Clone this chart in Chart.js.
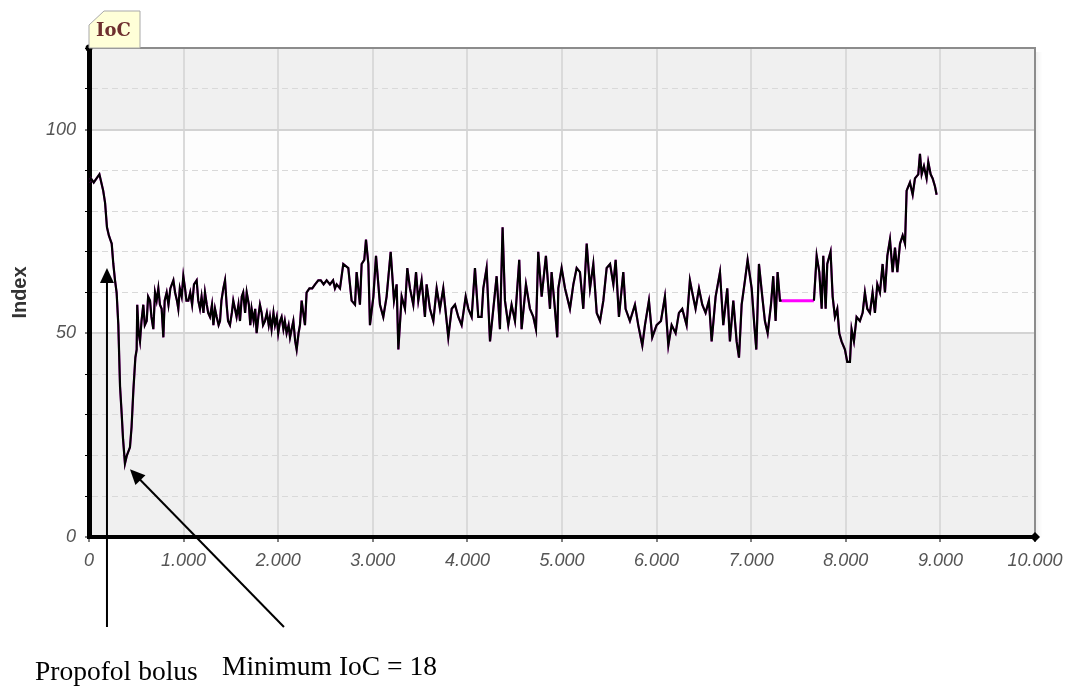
<!DOCTYPE html>
<html>
<head>
<meta charset="utf-8">
<title>IoC</title>
<script src="https://cdn.jsdelivr.net/npm/chart.js@4.4.1/dist/chart.umd.min.js"></script>
<style>
  html, body { margin: 0; padding: 0; background: #fff; }
  #wrap { position: relative; width: 1067px; height: 690px; }
</style>
</head>
<body>
<div id="wrap"><canvas id="ioc" width="1067" height="690"></canvas></div>
<script>
// seconds since start of recording
const seconds = [
  0, 20, 50, 80, 110, 130, 150, 170, 190, 210, 225, 240, 257, 275, 292, 310, 328, 346, 360, 380,
  400, 433, 450, 469, 490, 504, 510, 525, 539, 555, 574, 590, 610, 625, 645, 660, 680, 698, 715, 733,
  750, 768, 786, 800, 821, 840, 860, 892, 910, 930, 944, 960, 980, 997, 1015, 1030, 1050, 1070, 1090, 1110,
  1138, 1155, 1173, 1190, 1210, 1226, 1245, 1260, 1279, 1300, 1315, 1332, 1350, 1370, 1385, 1400, 1420, 1438, 1455, 1470,
  1490, 1510, 1525, 1543, 1560, 1580, 1596, 1615, 1630, 1650, 1667, 1690, 1705, 1719, 1740, 1757, 1772, 1790, 1807, 1825,
  1840, 1860, 1880, 1900, 1913, 1930, 1950, 1966, 1985, 2000, 2020, 2036, 2055, 2070, 2089, 2110, 2125, 2142, 2160, 2180,
  2195, 2215, 2230, 2248, 2265, 2283, 2300, 2330, 2360, 2390, 2424, 2450, 2480, 2512, 2547, 2580, 2600, 2618, 2653, 2688,
  2741, 2776, 2812, 2829, 2864, 2882, 2910, 2928, 2953, 2970, 3006, 3034, 3076, 3111, 3146, 3189, 3224, 3252, 3270, 3305,
  3340, 3365, 3393, 3428, 3457, 3481, 3516, 3551, 3569, 3604, 3640, 3675, 3710, 3745, 3798, 3834, 3869, 3904, 3939, 3982,
  4010, 4045, 4080, 4115, 4150, 4168, 4203, 4239, 4274, 4309, 4344, 4372, 4397, 4432, 4467, 4503, 4548, 4573, 4619, 4661,
  4697, 4725, 4749, 4785, 4830, 4873, 4890, 4925, 4950, 4961, 4996, 5032, 5084, 5120, 5155, 5190, 5225, 5261, 5296, 5331,
  5367, 5402, 5437, 5472, 5508, 5543, 5567, 5602, 5648, 5672, 5718, 5771, 5806, 5849, 5877, 5919, 5954, 6000, 6046, 6088,
  6124, 6159, 6201, 6236, 6271, 6317, 6352, 6377, 6412, 6448, 6483, 6518, 6553, 6582, 6624, 6670, 6705, 6747, 6775, 6811,
  6846, 6871, 6899, 6934, 6962, 7005, 7033, 7054, 7082, 7117, 7145, 7174, 7209, 7233, 7258, 7279, 7304, 7322, 7663, 7692,
  7720, 7745, 7762, 7787, 7804, 7839, 7861, 7885, 7910, 7931, 7955, 7991, 8015, 8044, 8061, 8086, 8114, 8149, 8178, 8202,
  8227, 8255, 8283, 8308, 8333, 8361, 8389, 8414, 8439, 8467, 8495, 8520, 8545, 8573, 8601, 8626, 8643, 8678, 8707, 8731,
  8766, 8784, 8802, 8826, 8854, 8872, 8897, 8918, 8943, 8960
]
const ioc = [
  87, 88, 87, 88, 89, 87, 85, 82, 76, 74, 73, 72, 67, 63, 60, 52, 37, 30, 24, 18,
  20, 22, 27, 36, 44, 46, 57, 50, 48, 53, 57, 52, 53, 59, 58, 54, 51, 60, 58, 61,
  57, 56, 49, 58, 60, 57, 61, 63, 60, 58, 56, 61, 59, 64, 61, 58, 58, 60, 57, 62,
  63, 58, 56, 59, 55, 60, 57, 55, 54, 57, 52, 56, 54, 52, 53, 58, 61, 63, 57, 53,
  52, 55, 58, 56, 54, 57, 53, 59, 60, 55, 60, 57, 52, 56, 53, 56, 50, 54, 57, 55,
  52, 53, 55, 52, 54, 51, 55, 52, 54, 50, 53, 54, 51, 53, 50, 52, 49, 51, 53, 48,
  46, 50, 52, 58, 55, 52, 60, 61, 61, 62, 63, 63, 62, 63, 62, 63, 61, 62, 61, 67,
  66, 58, 57, 65, 57, 67, 68, 73, 67, 52, 59, 69, 57, 54, 59, 70, 58, 62, 46, 59,
  56, 66, 61, 57, 65, 58, 63, 54, 62, 56, 53, 61, 56, 61, 49, 56, 57, 54, 52, 59,
  56, 54, 66, 54, 54, 61, 66, 48, 56, 64, 51, 76, 58, 52, 57, 53, 68, 51, 62, 56,
  54, 51, 70, 59, 69, 56, 65, 56, 49, 61, 66, 61, 56, 62, 66, 65, 56, 72, 61, 67,
  55, 53, 58, 66, 67, 62, 68, 54, 65, 56, 53, 57, 52, 47, 52, 58, 49, 52, 53, 59,
  47, 52, 50, 55, 56, 52, 63, 60, 56, 61, 57, 55, 58, 48, 59, 65, 52, 61, 48, 58,
  48, 44, 57, 63, 68, 61, 52, 46, 67, 59, 53, 50, 57, 64, 53, 65, 58, 58, 58, 69,
  65, 56, 69, 56, 67, 70, 59, 54, 56, 50, 48, 46, 43, 43, 51, 48, 54, 53, 55, 60,
  56, 55, 60, 55, 62, 60, 67, 60, 69, 73, 65, 71, 65, 72, 74, 72, 85, 87, 84, 88,
  89, 94, 89, 91, 88, 92, 89, 88, 86, 84
]
// the monitor held its last value here, only the trend line is drawn
const holdFrom = 7322
const holdTo = 7663

const xTickLabels = ['0', '1.000', '2.000', '3.000', '4.000', '5.000', '6.000', '7.000', '8.000', '9.000', '10.000']
const yLabelled = [0, 50, 100]

const trend = seconds.map((s, i) => ({x: s, y: ioc[i]}))
const trace = []
trend.forEach(p => {
  trace.push(p)
  if (p.x === holdFrom) trace.push({x: (holdFrom + holdTo) / 2, y: null})
})

const tickFont = {family: 'Liberation Sans', size: 18, style: 'italic'}

const arrow = (ctx, x0, y0, x1, y1) => {
  const ang = Math.atan2(y1 - y0, x1 - x0)
  const len = 15, half = 7
  ctx.beginPath()
  ctx.moveTo(x0, y0)
  ctx.lineTo(x1 - Math.cos(ang) * len * 0.6, y1 - Math.sin(ang) * len * 0.6)
  ctx.stroke()
  ctx.beginPath()
  ctx.moveTo(x1, y1)
  ctx.lineTo(x1 - Math.cos(ang) * len - Math.sin(ang) * half, y1 - Math.sin(ang) * len + Math.cos(ang) * half)
  ctx.lineTo(x1 - Math.cos(ang) * len + Math.sin(ang) * half, y1 - Math.sin(ang) * len - Math.cos(ang) * half)
  ctx.closePath()
  ctx.fill()
}

const decor = {
  id: 'decor',
  beforeDraw(chart) {
    const {ctx, chartArea: a, scales: {y}} = chart
    const edges = [0, 50, 100, 120]
    const fills = ['#f0f0f0', '#fdfdfd', '#f0f0f0']
    ctx.save()
    fills.forEach((c, i) => {
      const top = y.getPixelForValue(edges[i + 1])
      const bot = y.getPixelForValue(edges[i])
      ctx.fillStyle = c
      ctx.fillRect(a.left, top, a.right - a.left, bot - top)
    })
    ctx.restore()
  },
  afterDraw(chart) {
    const {ctx, chartArea: a, scales: {x, y}} = chart
    ctx.save()
    // soft shadow and frame
    for (let i = 1; i <= 6; i++) {
      ctx.strokeStyle = 'rgba(0,0,0,' + (0.06 - i * 0.009) + ')'
      ctx.lineWidth = 1
      ctx.beginPath()
      ctx.moveTo(a.right + i + 0.5, a.top + 4)
      ctx.lineTo(a.right + i + 0.5, a.bottom)
      ctx.stroke()
    }
    ctx.strokeStyle = '#8c8c8c'
    ctx.lineWidth = 2
    ctx.beginPath()
    ctx.moveTo(a.left, a.top)
    ctx.lineTo(a.right, a.top)
    ctx.lineTo(a.right, a.bottom - 2)
    ctx.stroke()
    // axis ends
    ctx.fillStyle = '#000'
    ctx.beginPath()
    ctx.arc(a.left, a.top, 3.5, 0, Math.PI * 2)
    ctx.fill()
    ctx.beginPath()
    ctx.moveTo(a.right - 5, a.bottom)
    ctx.lineTo(a.right, a.bottom - 5)
    ctx.lineTo(a.right + 5, a.bottom)
    ctx.lineTo(a.right, a.bottom + 5)
    ctx.closePath()
    ctx.fill()

    // IoC tag
    ctx.beginPath()
    ctx.moveTo(a.left, a.top)
    ctx.lineTo(a.left, a.top - 23)
    ctx.lineTo(a.left + 15, a.top - 37)
    ctx.lineTo(a.left + 51, a.top - 37)
    ctx.lineTo(a.left + 51, a.top)
    ctx.closePath()
    ctx.fillStyle = '#ffffd8'
    ctx.fill()
    ctx.strokeStyle = '#a9a9a9'
    ctx.lineWidth = 1
    ctx.stroke()
    ctx.fillStyle = '#6e2f2f'
    ctx.font = 'bold 18px "DejaVu Serif"'
    ctx.textBaseline = 'alphabetic'
    ctx.fillText('IoC', a.left + 7, a.top - 12)

    // arrows and notes below the chart
    ctx.strokeStyle = '#000'
    ctx.fillStyle = '#000'
    ctx.lineWidth = 2
    const tail = a.bottom + 90
    arrow(ctx, x.getPixelForValue(190), tail, x.getPixelForValue(190), y.getPixelForValue(66))
    arrow(ctx, x.getPixelForValue(2061), tail, x.getPixelForValue(433), y.getPixelForValue(16.6))
    ctx.font = '27.5px "Liberation Serif"'
    ctx.fillText('Propofol bolus', 35, 680)
    ctx.fillText('Minimum IoC = 18', 222, 675)
    ctx.restore()
  }
}

const chart = new Chart(document.getElementById('ioc'), {
  type: 'line',
  data: {
    datasets: [
      {
        label: 'IoC',
        data: trace,
        borderColor: '#000',
        borderWidth: 2.2,
        pointRadius: 0,
        tension: 0,
        spanGaps: false,
        order: 0
      },
      {
        label: 'IoC trend',
        data: trend,
        borderColor: '#ff00ff',
        borderWidth: 2,
        segment: {borderWidth: c => c.p0.parsed.x === holdFrom ? 3 : 2},
        pointRadius: 0,
        tension: 0,
        order: 1
      }
    ]
  },
  options: {
    responsive: false,
    animation: false,
    layout: {padding: {left: 0, top: 48, right: 32, bottom: 0}},
    plugins: {legend: {display: false}, tooltip: {enabled: false}},
    scales: {
      x: {
        type: 'linear',
        min: 0,
        max: 10000,
        afterFit: s => {
          s.height = 153
          s.paddingLeft = 0
          s.paddingRight = 0
        },
        ticks: {
          stepSize: 1000,
          autoSkip: false,
          maxRotation: 0,
          padding: 8,
          color: '#555',
          font: tickFont,
          callback: (v, i) => xTickLabels[i]
        },
        grid: {
          color: c => c.tick && (c.tick.value === 0 || c.tick.value === 10000) ? 'rgba(0,0,0,0)' : '#dadada',
          lineWidth: 2,
          tickColor: '#000',
          tickLength: 5,
          tickWidth: 1
        },
        border: {color: '#000', width: 4}
      },
      y: {
        min: 0,
        max: 120,
        afterFit: s => { s.width = 89 },
        ticks: {
          stepSize: 10,
          padding: 9,
          color: '#555',
          font: tickFont,
          callback: v => yLabelled.includes(v) ? String(v) : ''
        },
        grid: {
          color: c => {
            if (!c.tick || c.tick.value === 0 || c.tick.value === 120) return 'rgba(0,0,0,0)'
            return c.tick.value % 50 === 0 ? '#d3d3d3' : '#d9d9d9'
          },
          lineWidth: c => c.tick && c.tick.value % 50 === 0 ? 2 : 1,
          tickColor: '#000',
          tickLength: 4,
          tickWidth: 1
        },
        border: {
          color: '#000',
          width: 5,
          dash: c => c.type === 'tick' && c.tick.value % 50 !== 0 ? [6, 4] : []
        },
        title: {
          display: true,
          text: 'Index',
          color: '#333',
          font: {family: 'Liberation Sans', size: 20, weight: 'bold'},
          padding: {top: 8, bottom: 0}
        }
      }
    }
  },
  plugins: [decor]
})
</script>
</body>
</html>
